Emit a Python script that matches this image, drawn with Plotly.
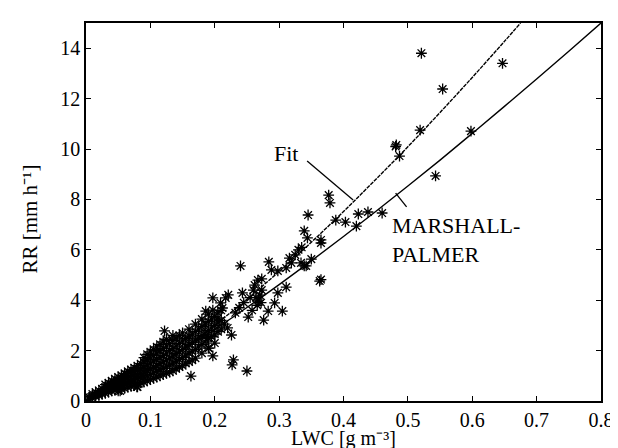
import plotly.graph_objects as go

# Dense band of observations (LWC g m-3, RR mm h-1)
band_lwc = [
    0.005, 0.005,
    0.010, 0.010, 0.010,
    0.015, 0.015, 0.015,
    0.020, 0.020, 0.020,
    0.025, 0.025, 0.025,
    0.030, 0.030, 0.030, 0.030,
    0.035, 0.035, 0.035, 0.035,
    0.040, 0.040, 0.040, 0.040,
    0.045, 0.045, 0.045, 0.045,
    0.050, 0.050, 0.050, 0.050, 0.050,
    0.055, 0.055, 0.055, 0.055, 0.055,
    0.060, 0.060, 0.060, 0.060, 0.060,
    0.065, 0.065, 0.065, 0.065, 0.065,
    0.070, 0.070, 0.070, 0.070, 0.070,
    0.075, 0.075, 0.075, 0.075, 0.075,
    0.080, 0.080, 0.080, 0.080, 0.080, 0.080,
    0.085, 0.085, 0.085, 0.085, 0.085,
    0.090, 0.090, 0.090, 0.090, 0.090, 0.090,
    0.095, 0.095, 0.095, 0.095, 0.095, 0.095,
    0.100, 0.100, 0.100, 0.100, 0.100, 0.100,
    0.105, 0.105, 0.105, 0.105, 0.105, 0.105,
    0.110, 0.110, 0.110, 0.110, 0.110, 0.110,
    0.115, 0.115, 0.115, 0.115, 0.115, 0.115,
    0.120, 0.120, 0.120, 0.120, 0.120, 0.120,
    0.125, 0.125, 0.125, 0.125, 0.125, 0.125,
    0.130, 0.130, 0.130, 0.130, 0.130,
    0.135, 0.135, 0.135, 0.135, 0.135, 0.135,
    0.140, 0.140, 0.140, 0.140, 0.140,
    0.145, 0.145, 0.145, 0.145, 0.145,
    0.150, 0.150, 0.150, 0.150, 0.150,
    0.155, 0.155, 0.155, 0.155,
    0.160, 0.160, 0.160, 0.160, 0.160,
    0.165, 0.165, 0.165, 0.165,
    0.170, 0.170, 0.170, 0.170, 0.170,
    0.175, 0.175, 0.175,
    0.180, 0.180, 0.180, 0.180, 0.180,
    0.185, 0.185, 0.185,
    0.190, 0.190, 0.190, 0.190, 0.190,
    0.195, 0.195, 0.195,
    0.200, 0.200, 0.200, 0.200,
    0.205, 0.205, 0.205,
    0.210, 0.210, 0.210,
]
band_rr = [
    0.08, 0.15,
    0.12, 0.20, 0.28,
    0.18, 0.26, 0.35,
    0.22, 0.30, 0.42,
    0.27, 0.36, 0.48,
    0.30, 0.42, 0.55, 0.65,
    0.35, 0.47, 0.60, 0.72,
    0.40, 0.52, 0.66, 0.80,
    0.42, 0.58, 0.72, 0.88,
    0.40, 0.55, 0.68, 0.82, 0.95,
    0.48, 0.62, 0.76, 0.90, 1.02,
    0.50, 0.66, 0.80, 0.96, 1.10,
    0.55, 0.72, 0.88, 1.02, 1.18,
    0.58, 0.76, 0.92, 1.08, 1.25,
    0.62, 0.80, 0.98, 1.15, 1.32,
    0.56, 0.70, 0.88, 1.05, 1.22, 1.40,
    0.72, 0.92, 1.10, 1.28, 1.48,
    0.75, 0.96, 1.15, 1.35, 1.55, 1.72,
    0.80, 1.00, 1.22, 1.42, 1.62, 1.85,
    0.85, 1.05, 1.28, 1.50, 1.70, 1.95,
    0.90, 1.12, 1.35, 1.58, 1.80, 2.05,
    0.95, 1.18, 1.40, 1.65, 1.90, 2.15,
    1.00, 1.25, 1.48, 1.72, 2.00, 2.25,
    1.05, 1.30, 1.55, 1.80, 2.08, 2.35,
    1.10, 1.38, 1.62, 1.90, 2.18, 2.45,
    1.15, 1.42, 1.70, 2.00, 2.28,
    1.20, 1.50, 1.78, 2.08, 2.40, 2.60,
    1.28, 1.58, 1.88, 2.18, 2.50,
    1.35, 1.65, 1.95, 2.28, 2.60,
    1.40, 1.72, 2.05, 2.38, 2.70,
    1.50, 1.82, 2.15, 2.48,
    1.55, 1.90, 2.25, 2.58, 2.85,
    1.62, 1.98, 2.32, 2.65,
    1.70, 2.05, 2.42, 2.75, 3.05,
    2.15, 2.50, 2.85,
    1.90, 2.25, 2.60, 2.95, 3.25,
    2.35, 2.70, 3.05,
    2.10, 2.50, 2.80, 3.15, 3.45,
    2.55, 2.90, 3.25,
    2.30, 2.65, 3.00, 3.35,
    2.75, 3.10, 3.50,
    2.85, 3.20, 3.60,
]

# Scattered observations
spread_lwc = [
    0.053, 0.079, 0.122, 0.163, 0.197, 0.197, 0.186, 0.197, 0.209, 0.212,
    0.217, 0.221, 0.243, 0.240, 0.226, 0.229, 0.227, 0.250, 0.189, 0.191,
    0.252, 0.276, 0.283, 0.293, 0.305, 0.298, 0.311, 0.266, 0.268, 0.270,
    0.273, 0.264, 0.272, 0.267, 0.273, 0.284, 0.288, 0.298, 0.311, 0.319,
    0.334, 0.339, 0.342, 0.350, 0.363, 0.365, 0.339, 0.344, 0.365, 0.365,
    0.345, 0.377, 0.379, 0.388, 0.403, 0.420, 0.423, 0.438, 0.460, 0.481,
    0.482, 0.487, 0.519, 0.543, 0.521, 0.554, 0.598, 0.647,
    0.205, 0.215, 0.220, 0.232, 0.238, 0.245, 0.255, 0.258, 0.260, 0.262,
    0.316, 0.325, 0.330, 0.335,
]
spread_rr = [
    0.40, 0.56, 2.78, 0.99, 1.79, 4.09, 3.57, 3.61, 3.89, 3.69,
    4.09, 4.21, 4.29, 5.36, 2.62, 1.63, 1.43, 1.19, 2.50, 2.10,
    3.33, 3.21, 3.57, 3.89, 3.57, 4.29, 4.52, 3.80, 4.00, 4.20,
    4.40, 4.10, 3.90, 4.80, 4.85, 5.52, 5.20, 5.16, 5.28, 5.48,
    5.48, 5.36, 5.36, 5.63, 4.76, 4.82, 6.75, 6.47, 6.39, 6.27,
    7.38, 8.17, 7.86, 7.18, 7.10, 6.94, 7.42, 7.50, 7.46, 10.10,
    10.16, 9.72, 10.75, 8.93, 13.80, 12.38, 10.71, 13.40,
    3.30, 3.05, 2.90, 3.50, 3.70, 3.90, 4.10, 3.60, 4.40, 4.60,
    5.67, 5.80, 6.00, 6.10,
]

# Curves
curve_lwc = [0.0, 0.05, 0.10, 0.15, 0.20, 0.25, 0.30, 0.35, 0.40, 0.45,
             0.50, 0.55, 0.60, 0.65, 0.70, 0.75, 0.80]
mp_rr = [0.0, 0.54, 1.24, 2.01, 2.84, 3.71, 4.62, 5.56, 6.53, 7.52,
         8.53, 9.56, 10.62, 11.69, 12.78, 13.88, 15.0]
fit_lwc = [0.0, 0.05, 0.10, 0.15, 0.20, 0.25, 0.30, 0.35, 0.40, 0.45,
           0.50, 0.55, 0.60, 0.65, 0.675]
fit_rr = [0.0, 0.48, 1.21, 2.06, 3.01, 4.04, 5.14, 6.30, 7.52, 8.79,
          10.09, 11.45, 12.84, 14.27, 15.0]

x_ticks = [0, 0.1, 0.2, 0.3, 0.4, 0.5, 0.6, 0.7, 0.8]
x_labels = ["0", "0.1", "0.2", "0.3", "0.4", "0.5", "0.6", "0.7", "0.8"]
y_ticks = [0, 2, 4, 6, 8, 10, 12, 14]

FONT = "Liberation Serif, Times New Roman, serif"
FS = 21

fig = go.Figure()
star = dict(symbol="asterisk-open", size=9, color="black",
            line=dict(color="black", width=1.3))
fig.add_trace(go.Scatter(x=band_lwc, y=band_rr, mode="markers", marker=star,
                         showlegend=False))
fig.add_trace(go.Scatter(x=spread_lwc, y=spread_rr, mode="markers", marker=star,
                         showlegend=False))
fig.add_trace(go.Scatter(x=curve_lwc, y=mp_rr, mode="lines", line_shape="spline",
                         line=dict(color="black", width=1.4), showlegend=False))
fig.add_trace(go.Scatter(x=fit_lwc, y=fit_rr, mode="lines", line_shape="spline",
                         line=dict(color="black", width=1.4, dash="4px,1px"),
                         showlegend=False))

# leader lines
fig.add_shape(type="line", x0=0.3435, y0=9.52, x1=0.415, y1=7.98,
              line=dict(color="black", width=1.3))
fig.add_shape(type="line", x0=0.481, y0=8.25, x1=0.498, y1=7.70,
              line=dict(color="black", width=1.3))

fig.add_annotation(x=0.311, y=9.84, text="Fit", showarrow=False,
                   font=dict(family=FONT, size=22, color="black"))
fig.add_annotation(x=0.473, y=7.55, text="MARSHALL-<br>PALMER", showarrow=False,
                   xanchor="left", yanchor="top", align="left",
                   font=dict(family=FONT, size=22, color="black"))

# axis titles
fig.add_annotation(xref="paper", yref="paper", x=0.5, y=0, yshift=-50,
                   xanchor="center", yanchor="bottom", showarrow=False,
                   borderpad=0, text="LWC [g m⁻³]",
                   font=dict(family=FONT, size=20, color="black"))
fig.add_annotation(xref="paper", yref="paper", x=0, xshift=-56, y=0.48,
                   xanchor="center", yanchor="middle", showarrow=False,
                   textangle=-90, text="RR [mm h⁻¹]",
                   font=dict(family=FONT, size=FS, color="black"))

axis_common = dict(showline=True, linecolor="black", linewidth=1.5, mirror="ticks",
                   ticks="inside", ticklen=5, tickcolor="black", tickwidth=1.2,
                   showgrid=False, zeroline=False,
                   tickfont=dict(family=FONT, size=20, color="black"))
fig.update_xaxes(range=[0, 0.8], tickvals=x_ticks, ticktext=x_labels, **axis_common)
fig.update_yaxes(range=[0, 15], tickvals=y_ticks, **axis_common)

fig.update_layout(width=618, height=448, margin=dict(l=78, r=16, t=15, b=55),
                  plot_bgcolor="white", paper_bgcolor="white")

fig.write_html("out.html")
